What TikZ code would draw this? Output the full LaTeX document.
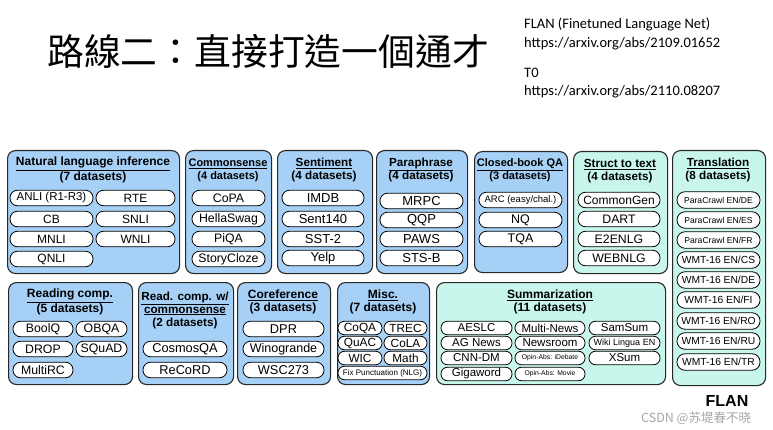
\documentclass[tikz,border=0pt]{standalone}
\usepackage{fontspec}
\setmainfont{Liberation Sans}
\newfontfamily\cjk{Noto Sans CJK TC}
\newfontfamily\cjksc{Noto Sans CJK SC}
\newfontfamily\carl{Carlito}
\definecolor{grpblue}{RGB}{166,208,245}
\definecolor{grpmint}{RGB}{200,246,236}
\definecolor{grpline}{RGB}{40,40,40}
\tikzset{
  grp/.style={draw=grpline, line width=1.1pt, rounded corners=8pt, inner sep=0pt, anchor=north west},
  gb/.style={grp, fill=grpblue},
  gm/.style={grp, fill=grpmint},
  hdr/.style={font=\fontsize{11.7}{13}\selectfont\bfseries, align=center, inner sep=0pt},
  hs/.style={font=\fontsize{#1}{13}\selectfont\bfseries},
  pill/.style={draw=black, line width=0.8pt, fill=white, rounded corners=7.5pt, minimum height=15.5pt, inner sep=0pt, font=\fontsize{12.5}{13}\selectfont},
  fs/.style={font=\fontsize{#1}{#1}\selectfont},
  sp/.style={minimum height=13.5pt, rounded corners=6.5pt, font=\fontsize{11.5}{12}\selectfont},
  tp/.style={minimum height=16.5pt, rounded corners=8pt},
  refs/.style={anchor=west, inner sep=0pt, font=\carl\fontsize{14.5}{16}\selectfont}
}
\newcommand{\pl}[6][]{\node[pill,#1,minimum width={#4-#3}] (#2) at ({(#3+#4)/2},#5) {#6};}
\newcommand{\grpbox}[6]{\node[#2,minimum width={#5-#3},minimum height={#6-#4}] (#1) at (#3,#4) {};}
\begin{document}
\begin{tikzpicture}[x=1pt,y=-1pt]
\useasboundingbox (0,0) rectangle (773,430);
% title and references
\node[anchor=west, inner sep=0pt, font=\cjk\fontsize{36.8}{40}\selectfont] (title) at (47,51) {路線二：直接打造一個通才};
\node[refs] (r1) at (524,24) {FLAN (Finetuned Language Net)};
\node[refs] (r2) at (524,44) {https://arxiv.org/abs/2109.01652};
\node[refs] (r3) at (524,73) {T0};
\node[refs] (r4) at (524,92) {https://arxiv.org/abs/2110.08207};

% group boxes
\grpbox{nli}{gb}{7}{150}{179}{273}
\grpbox{cs}{gb}{185}{150}{271}{273}
\grpbox{sent}{gb}{277}{150}{372}{273}
\grpbox{para}{gb}{376}{150}{467}{273}
\grpbox{cbqa}{gb}{474}{151}{567}{272}
\grpbox{s2t}{gm}{573}{151}{667}{273}
\grpbox{trans}{gm}{672}{150}{765}{385}
\grpbox{rc}{gb}{8}{282}{132}{384}
\grpbox{rcc}{gb}{138}{282}{233}{384}
\grpbox{coref}{gb}{237}{282}{330}{384}
\grpbox{misc}{gb}{337}{282}{429}{384}
\grpbox{summ}{gm}{436}{282}{665}{384}

% headers
\node[hdr,hs=12] (nli-h) at (93,170) {\underline{Natural language inference}\\(7 datasets)};
\node[hdr,hs=11] (cs-h) at (228,170) {\underline{Commonsense}\\(4 datasets)};
\node[hdr] (sent-h) at (324,170) {\underline{Sentiment}\\(4 datasets)};
\node[hdr] (para-h) at (421,170) {\underline{Paraphrase}\\(4 datasets)};
\node[hdr,hs=11] (cbqa-h) at (520,170) {\underline{Closed-book QA}\\(3 datasets)};
\node[hdr] (s2t-h) at (620,171) {\underline{Struct to text}\\(4 datasets)};
\node[hdr] (trans-h) at (718,170) {\underline{Translation}\\(8 datasets)};
\node[hdr,hs=12] (rc-h) at (70,302) {\underline{Reading comp.}\\(5 datasets)};
\node[hdr] (rcc-h) at (185,310) {\underline{Read. comp. w/}\\\underline{commonsense}\\(2 datasets)};
\node[hdr,hs=12] (coref-h) at (283,302) {\underline{Coreference}\\(3 datasets)};
\node[hdr,hs=12] (misc-h) at (383,302) {\underline{Misc.}\\(7 datasets)};
\node[hdr,hs=12] (summ-h) at (550,302) {\underline{Summarization}\\(11 datasets)};

% NLI
\pl[fs=11.5]{anli}{10}{93}{198}{ANLI (R1-R3)}
\pl[fs=12]{rte}{96}{175}{198}{RTE}
\pl[fs=12]{cb}{10}{93}{219}{CB}
\pl[fs=12]{snli}{96}{175}{219}{SNLI}
\pl[fs=12]{mnli}{10}{93}{239}{MNLI}
\pl[fs=12]{wnli}{96}{175}{239}{WNLI}
\pl[fs=12]{qnli}{10}{93}{259}{QNLI}
% Commonsense
\pl[fs=12.3]{copa}{192}{265}{198}{CoPA}
\pl[fs=12.3]{hella}{192}{265}{219}{HellaSwag}
\pl[fs=12.3]{piqa}{192}{265}{239}{PiQA}
\pl[fs=12.3]{story}{192}{265}{259}{StoryCloze}
% Sentiment
\pl[fs=13]{imdb}{282}{364}{198}{IMDB}
\pl[fs=13]{s140}{282}{364}{219}{Sent140}
\pl[fs=13]{sst}{282}{364}{239}{SST-2}
\pl[fs=13]{yelp}{282}{364}{258}{Yelp}
% Paraphrase
\pl[fs=13]{mrpc}{380}{463}{201}{MRPC}
\pl[fs=13]{qqp}{380}{463}{220}{QQP}
\pl[fs=13]{paws}{380}{463}{239}{PAWS}
\pl[fs=13]{stsb}{380}{463}{258}{STS-B}
% Closed-book QA
\pl[fs=9.5]{arc}{479}{562}{200}{ARC (easy/chal.)}
\pl[fs=12.5]{nq}{479}{562}{220}{NQ}
\pl[fs=12.5]{tqa}{479}{562}{239}{TQA}
% Struct to text
\pl[fs=12]{cgen}{578}{660}{200}{CommonGen}
\pl[fs=12.3]{dart}{578}{660}{219}{DART}
\pl[fs=12.3]{e2e}{578}{660}{239}{E2ENLG}
\pl[fs=12.3]{web}{578}{660}{258}{WEBNLG}
% Translation
\pl[tp,fs=8.6]{pcde}{677}{760}{200}{ParaCrawl EN/DE}
\pl[tp,fs=8.6]{pces}{677}{760}{220}{ParaCrawl EN/ES}
\pl[tp,fs=8.6]{pcfr}{677}{760}{240}{ParaCrawl EN/FR}
\pl[tp,fs=10.3]{wcs}{677}{760}{260}{WMT-16 EN/CS}
\pl[tp,fs=10.3]{wde}{677}{760}{280}{WMT-16 EN/DE}
\pl[tp,fs=10.3]{wfi}{677}{760}{300}{WMT-16 EN/FI}
\pl[tp,fs=10.3]{wro}{677}{760}{321}{WMT-16 EN/RO}
\pl[tp,fs=10.3]{wru}{677}{760}{341}{WMT-16 EN/RU}
\pl[tp,fs=10.3]{wtr}{677}{760}{362}{WMT-16 EN/TR}
% Reading comp.
\pl[fs=12.3]{boolq}{13}{73}{329}{BoolQ}
\pl[fs=12.3]{obqa}{76}{127}{329}{OBQA}
\pl[fs=12.3]{drop}{13}{73}{349}{DROP}
\pl[fs=12.3]{squad}{76}{127}{349}{SQuAD}
\pl[fs=12.3]{multirc}{13}{73}{370}{MultiRC}
% Read. comp. w/ commonsense
\pl[fs=12.8]{cosmos}{143}{227}{349}{CosmosQA}
\pl[fs=12.8]{record}{143}{227}{370}{ReCoRD}
% Coreference
\pl[fs=12.8]{dpr}{243}{324}{329}{DPR}
\pl[fs=12.5]{wino}{243}{324}{349}{Winogrande}
\pl[fs=12.8]{wsc}{243}{324}{370}{WSC273}
% Misc.
\pl[sp,fs=11.8]{coqa}{338}{382}{328}{CoQA}
\pl[sp,fs=11.8]{trec}{384}{427}{328}{TREC}
\pl[sp,fs=11.8]{quac}{338}{382}{343}{QuAC}
\pl[sp,fs=11.8]{cola}{384}{427}{343}{CoLA}
\pl[sp,fs=11.8]{wic}{338}{382}{358}{WIC}
\pl[sp,fs=11.8]{math}{384}{427}{358}{Math}
\pl[sp,fs=8]{fixp}{338}{427}{373}{Fix Punctuation (NLG)}
% Summarization
\pl[sp,fs=11.5]{aeslc}{441}{512}{328}{AESLC}
\pl[sp,fs=11.5]{multin}{515}{585}{328}{Multi-News}
\pl[sp,fs=11.5]{samsum}{589}{660}{328}{SamSum}
\pl[sp,fs=11.5]{agnews}{441}{512}{343}{AG News}
\pl[sp,fs=11.5]{newsroom}{515}{585}{343}{Newsroom}
\pl[sp,fs=9]{wiki}{589}{660}{343}{Wiki Lingua EN}
\pl[sp,fs=11.5]{cnndm}{441}{512}{358}{CNN-DM}
\pl[sp,fs=6.8]{opdeb}{515}{585}{358}{Opin-Abs: iDebate}
\pl[sp,fs=11.5]{xsum}{589}{660}{358}{XSum}
\pl[sp,fs=11.5]{giga}{441}{512}{374}{Gigaword}
\pl[sp,fs=6.8]{opmov}{515}{585}{374}{Opin-Abs: Movie}

% footer
\node[inner sep=0pt, font=\fontsize{16}{18}\selectfont\bfseries] (flan) at (727,401) {FLAN};
\node[anchor=west, inner sep=0pt, text=black!35, font=\cjksc\fontsize{12.5}{14}\selectfont] (wm) at (641,418) {CSDN @苏堤春不晓};
\end{tikzpicture}
\end{document}
